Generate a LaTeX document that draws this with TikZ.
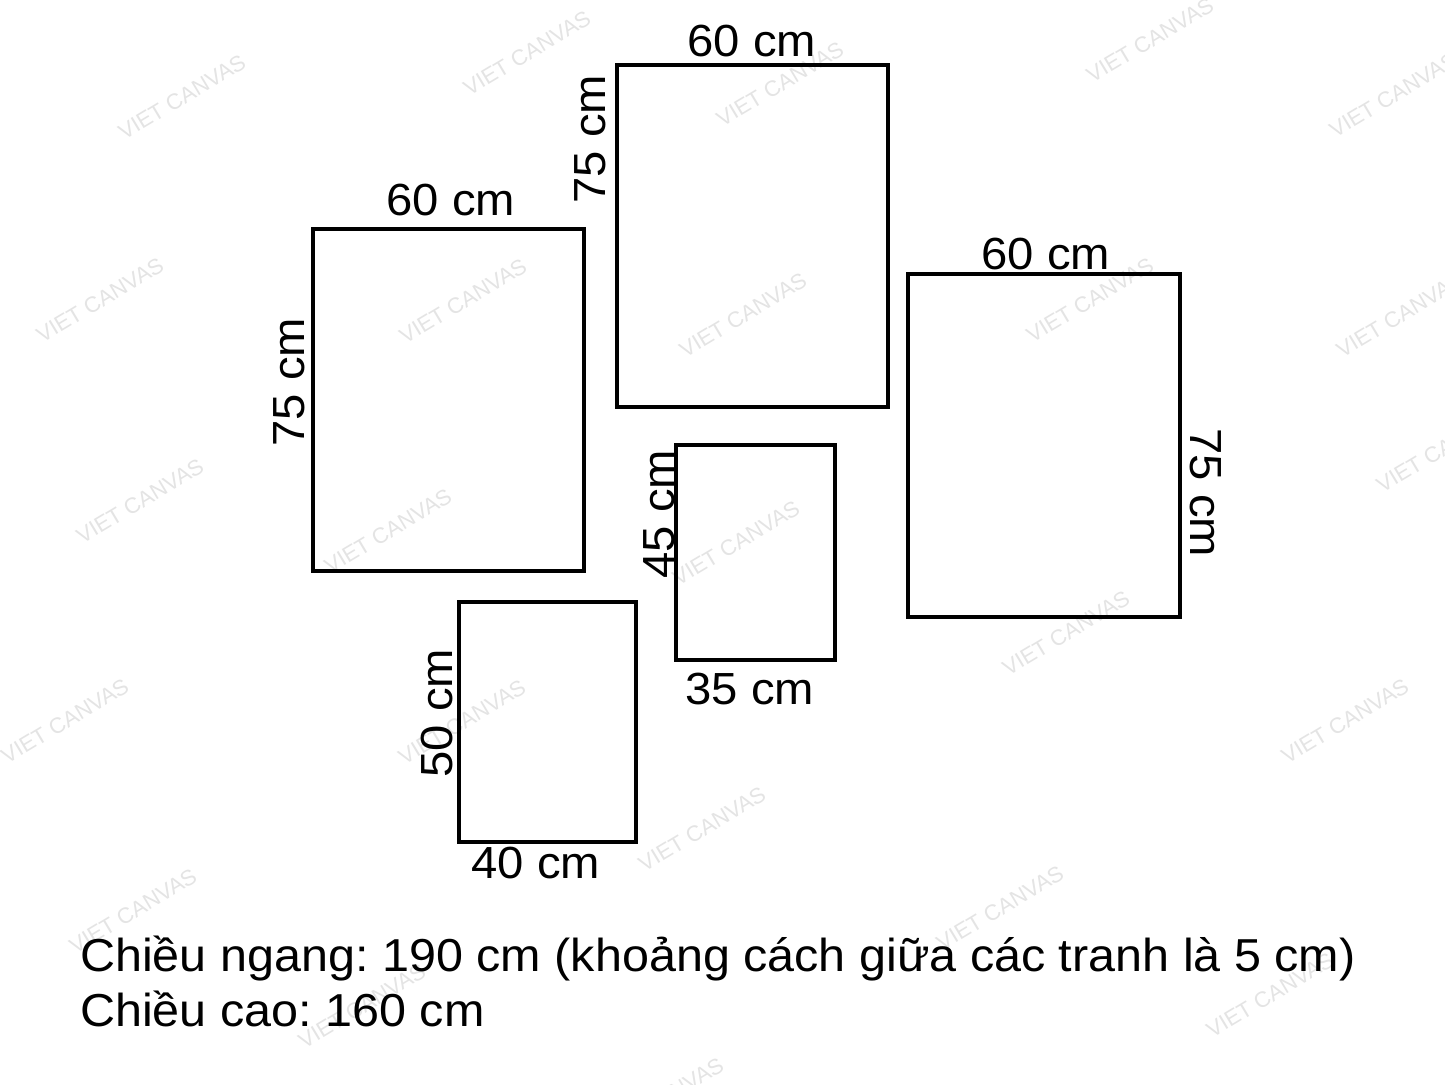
\documentclass[tikz,border=0pt]{standalone}
\usepackage{fontspec}
\setmainfont{Liberation Sans}[FakeStretch=1.05]
\newfontfamily\wmfont{Liberation Sans}
\frenchspacing
\definecolor{wm}{HTML}{E4E4E4}
\tikzset{
  frame/.style={draw=black, line width=4pt},
  dim/.style={inner sep=0pt, anchor=base, font=\fontsize{45}{50}\selectfont},
  note/.style={inner sep=0pt, anchor=base west, font=\fontsize{46.2}{50}\selectfont},
  mark wm/.style={inner sep=0pt, text=wm, rotate=31, font=\wmfont\fontsize{22}{24}\selectfont}
}
\begin{document}
\begin{tikzpicture}[x=1pt,y=-1pt]
\useasboundingbox (0,0) rectangle (1445,1084);
\fill[white] (0,0) rectangle (1445,1084);
% watermarks
\foreach \p [count=\i] in {(182,97),(527,53),(780,84),(1150,40),(1393,95),(100,300),(463,301),(743,315),(1090,300),(1400,315),(140,501),(388,531),(736,543),(1440,450),(65,721),(462,722),(1066,633),(1345,721),(133,911),(702,829),(1000,908),(362,1006),(1270,995),(660,1100)}
  \node[mark wm] (wm\i) at \p {VIET CANVAS};
% frames
\coordinate (a1) at (313,229); \coordinate (a2) at (584,571);
\coordinate (b1) at (617,65);  \coordinate (b2) at (888,407);
\coordinate (c1) at (908,274); \coordinate (c2) at (1180,617);
\coordinate (d1) at (676,445); \coordinate (d2) at (835,660);
\coordinate (e1) at (459,602); \coordinate (e2) at (636,842);
\draw[frame] (a1) rectangle (a2);
\draw[frame] (b1) rectangle (b2);
\draw[frame] (c1) rectangle (c2);
\draw[frame] (d1) rectangle (d2);
\draw[frame] (e1) rectangle (e2);
% dimension labels
\node[dim] (at) at (451,215) {60 cm};
\node[dim,rotate=90] (as) at (304,382) {75 cm};
\node[dim] (bt) at (752,56) {60 cm};
\node[dim,rotate=90] (bs) at (605,139) {75 cm};
\node[dim] (ct) at (1046,269) {60 cm};
\node[dim,rotate=-90] (cs) at (1190,493) {75 cm};
\node[dim,rotate=90] (ds) at (674,514) {45 cm};
\node[dim] (db) at (750,704) {35 cm};
\node[dim,rotate=90] (es) at (452,713) {50 cm};
\node[dim] (eb) at (536,878) {40 cm};
% notes
\node[note] (n1) at (80,971) {Chiều ngang: 190 cm (khoảng cách giữa các tranh là 5 cm)};
\node[note] (n2) at (80,1026) {Chiều cao: 160 cm};
\end{tikzpicture}
\end{document}
